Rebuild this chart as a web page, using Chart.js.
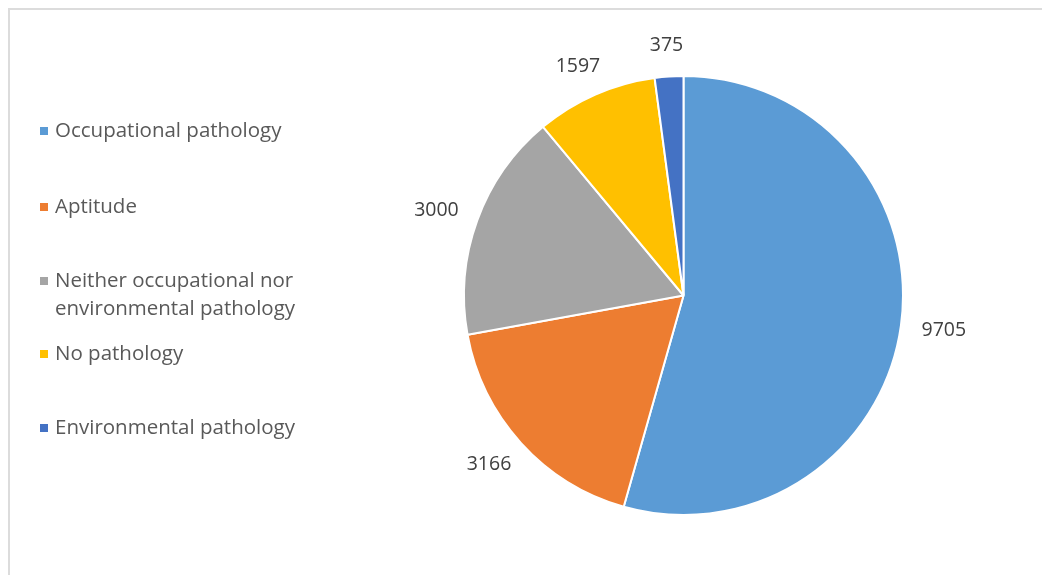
<!DOCTYPE html>
<html lang="en">
<head>
    <meta charset="UTF-8">
    <title>Pathology pie</title>
    <script src="https://cdn.jsdelivr.net/npm/chart.js"></script>
    <style>
        body { margin: 0; background: #fff; }
        .frame {
            position: absolute; left: 8px; top: 8px; width: 1100px; height: 600px;
            border-top: 2px solid #dcdcdc; border-left: 2px solid #dcdcdc;
        }
        .wrap { position: absolute; left: 0; top: 0; width: 1042px; height: 575px; }
    </style>
</head>
<body>
    <div class="frame"></div>
    <div class="wrap"><canvas id="pie" width="1042" height="575"></canvas></div>
    <script>
        // values
        const categories = ["Occupational pathology", "Aptitude", "Neither occupational nor environmental pathology", "No pathology", "Environmental pathology"]
        const legendLines = [["Occupational pathology"], ["Aptitude"], ["Neither occupational nor", "environmental pathology"], ["No pathology"], ["Environmental pathology"]]
        const counts = [9705, 3166, 3000, 1597, 375]
        const colours = ["#5B9BD5", "#ED7D31", "#A5A5A5", "#FFC000", "#4472C4"]
        const legendY = [131, 207, 281, 354, 428]

        const fontFam = "'Open Sans', sans-serif"

        // numbers outside each slice, nearest edge of the text a fixed gap from the rim
        const outsideLabels = {
            id: 'outsideLabels',
            afterDatasetsDraw(chart) {
                const ctx = chart.ctx
                const meta = chart.getDatasetMeta(0)
                ctx.save()
                ctx.font = "19.5px " + fontFam
                ctx.fillStyle = "#404040"
                ctx.textAlign = "center"
                ctx.textBaseline = "middle"
                meta.data.forEach((arc, i) => {
                    const mid = (arc.startAngle + arc.endAngle) / 2
                    const txt = String(counts[i])
                    const w = ctx.measureText(txt).width
                    const c = Math.cos(mid), s = Math.sin(mid)
                    const r = arc.outerRadius + 21
                    const x = arc.x + c * r + c * w / 2
                    const y = arc.y + s * r + s * 10
                    ctx.fillText(txt, x, y)
                })
                ctx.restore()
            }
        }

        // legend on the left, drawn by hand so long names can wrap
        const sideLegend = {
            id: 'sideLegend',
            afterDraw(chart) {
                const ctx = chart.ctx
                ctx.save()
                ctx.font = "20.5px " + fontFam
                ctx.textBaseline = "middle"
                legendLines.forEach((lines, i) => {
                    const y = legendY[i]
                    ctx.fillStyle = colours[i]
                    ctx.fillRect(40, y - 4, 8, 8)
                    ctx.fillStyle = "#595959"
                    lines.forEach((t, k) => ctx.fillText(t, 55, y + k * 28))
                })
                ctx.restore()
            }
        }

        new Chart(document.getElementById('pie'), {
            type: 'pie',
            data: {
                labels: categories,
                datasets: [{
                    data: counts,
                    backgroundColor: colours,
                    borderColor: '#ffffff',
                    borderWidth: 2
                }]
            },
            options: {
                responsive: false,
                animation: false,
                layout: { padding: { left: 463, right: 138, top: 75, bottom: 59 } },
                plugins: {
                    legend: { display: false },
                    tooltip: { enabled: false }
                }
            },
            plugins: [outsideLabels, sideLegend]
        })
    </script>
</body>
</html>
